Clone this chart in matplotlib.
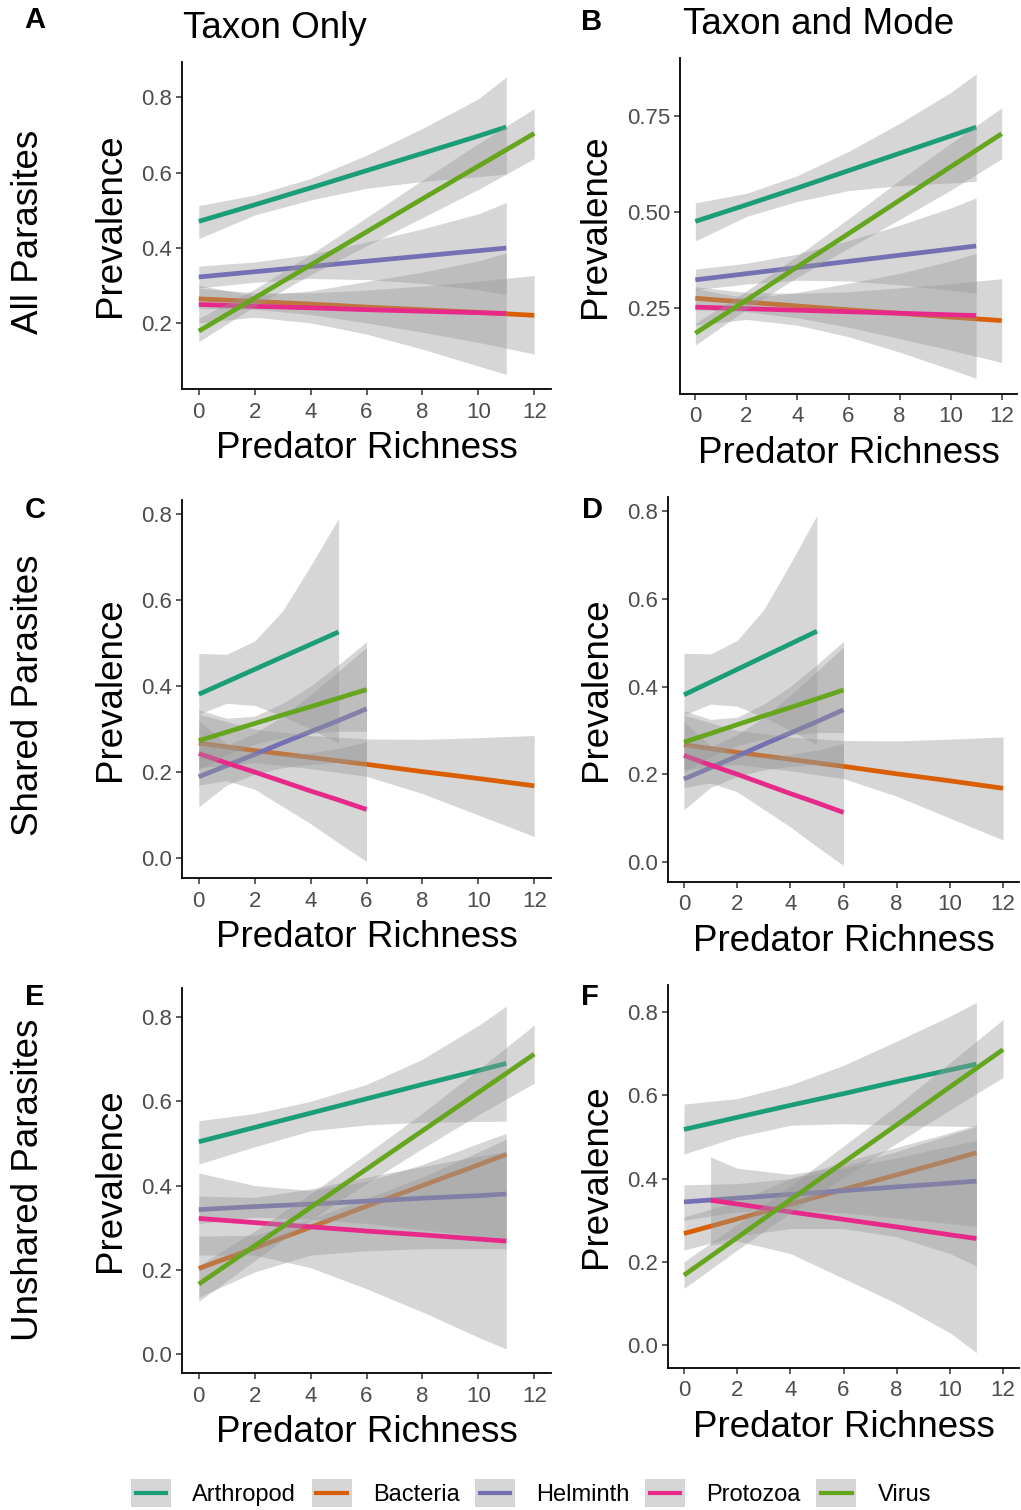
import numpy as np
import matplotlib
matplotlib.use('Agg')
import matplotlib.pyplot as plt
from matplotlib.patches import Rectangle
from matplotlib.lines import Line2D

plt.rcParams['font.family'] = ['Liberation Sans', 'DejaVu Sans']

taxa = ['Arthropod', 'Bacteria', 'Helminth', 'Protozoa', 'Virus']
colors = ['#1B9E77', '#D95F02', '#7570B3', '#E7298A', '#66A61E']

x11 = [0, 2, 4, 6, 8, 10, 11]
x12 = [0, 2, 4, 6, 8, 10, 12]
x5 = [0, 1, 2, 3, 4, 5]
x6 = [0, 1, 2, 3, 4, 5, 6]

# each taxon: (x, fitted prevalence, lower CI, upper CI)
panel_A = {
    'Arthropod': (x11, [0.470, 0.514, 0.559, 0.605, 0.651, 0.697, 0.721],
                  [0.424, 0.487, 0.527, 0.558, 0.576, 0.589, 0.596],
                  [0.512, 0.540, 0.584, 0.646, 0.717, 0.796, 0.854]),
    'Bacteria': (x12, [0.264, 0.257, 0.250, 0.242, 0.235, 0.228, 0.220],
                 [0.238, 0.236, 0.222, 0.200, 0.175, 0.148, 0.117],
                 [0.292, 0.280, 0.280, 0.287, 0.298, 0.311, 0.326]),
    'Helminth': (x11, [0.322, 0.336, 0.350, 0.364, 0.378, 0.392, 0.399],
                 [0.293, 0.308, 0.318, 0.315, 0.305, 0.288, 0.275],
                 [0.351, 0.362, 0.382, 0.415, 0.450, 0.490, 0.520]),
    'Protozoa': (x11, [0.249, 0.244, 0.240, 0.235, 0.231, 0.227, 0.225],
                 [0.200, 0.215, 0.200, 0.170, 0.130, 0.085, 0.063],
                 [0.300, 0.272, 0.285, 0.310, 0.335, 0.365, 0.386]),
    'Virus': (x12, [0.178, 0.266, 0.354, 0.442, 0.530, 0.617, 0.704],
              [0.150, 0.244, 0.328, 0.405, 0.480, 0.555, 0.637],
              [0.212, 0.290, 0.382, 0.480, 0.580, 0.677, 0.770]),
}

panel_B = {
    'Arthropod': (x11, [0.475, 0.518, 0.562, 0.607, 0.652, 0.697, 0.720],
                  [0.424, 0.488, 0.527, 0.555, 0.568, 0.575, 0.579],
                  [0.523, 0.548, 0.594, 0.657, 0.730, 0.810, 0.859]),
    'Bacteria': (x12, [0.275, 0.265, 0.255, 0.245, 0.236, 0.226, 0.217],
                 [0.245, 0.240, 0.224, 0.200, 0.170, 0.140, 0.108],
                 [0.305, 0.290, 0.288, 0.292, 0.302, 0.313, 0.326]),
    'Helminth': (x11, [0.323, 0.339, 0.355, 0.371, 0.387, 0.403, 0.411],
                 [0.297, 0.312, 0.322, 0.320, 0.310, 0.296, 0.288],
                 [0.351, 0.366, 0.390, 0.425, 0.465, 0.510, 0.536]),
    'Protozoa': (x11, [0.252, 0.248, 0.244, 0.240, 0.236, 0.232, 0.230],
                 [0.205, 0.220, 0.205, 0.175, 0.135, 0.090, 0.067],
                 [0.300, 0.276, 0.290, 0.314, 0.340, 0.372, 0.392]),
    'Virus': (x12, [0.184, 0.270, 0.357, 0.443, 0.530, 0.617, 0.703],
              [0.153, 0.246, 0.330, 0.405, 0.480, 0.556, 0.638],
              [0.210, 0.294, 0.385, 0.482, 0.582, 0.678, 0.770]),
}

panel_C = {
    'Arthropod': (x5, [0.381, 0.410, 0.439, 0.468, 0.497, 0.526],
                  [0.335, 0.360, 0.355, 0.330, 0.300, 0.267],
                  [0.476, 0.474, 0.505, 0.575, 0.680, 0.790]),
    'Bacteria': (x12, [0.267, 0.250, 0.234, 0.218, 0.201, 0.185, 0.168],
                 [0.210, 0.222, 0.208, 0.190, 0.150, 0.100, 0.050],
                 [0.335, 0.300, 0.285, 0.277, 0.276, 0.280, 0.285]),
    'Helminth': (x6, [0.189, 0.215, 0.241, 0.268, 0.294, 0.320, 0.347],
                 [0.119, 0.170, 0.195, 0.210, 0.218, 0.222, 0.225],
                 [0.270, 0.262, 0.290, 0.330, 0.380, 0.435, 0.490]),
    'Protozoa': (x6, [0.243, 0.221, 0.200, 0.178, 0.156, 0.135, 0.113],
                 [0.170, 0.180, 0.160, 0.120, 0.080, 0.035, -0.008],
                 [0.320, 0.265, 0.245, 0.240, 0.245, 0.255, 0.270]),
    'Virus': (x6, [0.273, 0.293, 0.313, 0.333, 0.352, 0.372, 0.392],
              [0.205, 0.240, 0.265, 0.280, 0.290, 0.295, 0.295],
              [0.345, 0.325, 0.330, 0.360, 0.400, 0.450, 0.503]),
}

# taxon-and-mode fit for shared parasites is indistinguishable from panel C
panel_D = panel_C

panel_E = {
    'Arthropod': (x11, [0.504, 0.538, 0.572, 0.606, 0.640, 0.673, 0.690],
                  [0.451, 0.492, 0.530, 0.544, 0.550, 0.552, 0.553],
                  [0.554, 0.571, 0.600, 0.640, 0.700, 0.780, 0.826]),
    'Bacteria': (x11, [0.203, 0.252, 0.301, 0.351, 0.400, 0.449, 0.474],
                 [0.135, 0.195, 0.235, 0.245, 0.250, 0.250, 0.250],
                 [0.280, 0.282, 0.320, 0.370, 0.420, 0.480, 0.510]),
    'Helminth': (x11, [0.343, 0.350, 0.356, 0.363, 0.370, 0.376, 0.380],
                 [0.310, 0.325, 0.320, 0.310, 0.295, 0.280, 0.270],
                 [0.375, 0.372, 0.392, 0.420, 0.445, 0.470, 0.480]),
    'Protozoa': (x11, [0.322, 0.312, 0.302, 0.292, 0.283, 0.273, 0.268],
                 [0.235, 0.235, 0.205, 0.155, 0.100, 0.040, 0.012],
                 [0.430, 0.400, 0.388, 0.410, 0.450, 0.500, 0.524]),
    'Virus': (x12, [0.166, 0.257, 0.348, 0.439, 0.530, 0.621, 0.712],
              [0.125, 0.222, 0.318, 0.405, 0.488, 0.568, 0.643],
              [0.210, 0.292, 0.380, 0.475, 0.572, 0.675, 0.781]),
}

panel_F = {
    'Arthropod': (x11, [0.518, 0.547, 0.576, 0.604, 0.633, 0.661, 0.675],
                  [0.459, 0.500, 0.528, 0.532, 0.528, 0.526, 0.525],
                  [0.579, 0.592, 0.625, 0.672, 0.730, 0.790, 0.823]),
    'Bacteria': (x11, [0.268, 0.303, 0.338, 0.374, 0.409, 0.444, 0.462],
                 [0.228, 0.262, 0.280, 0.280, 0.260, 0.220, 0.190],
                 [0.308, 0.345, 0.400, 0.440, 0.475, 0.510, 0.529]),
    'Helminth': (x11, [0.344, 0.353, 0.362, 0.371, 0.380, 0.389, 0.394],
                 [0.300, 0.320, 0.325, 0.318, 0.305, 0.292, 0.285],
                 [0.385, 0.388, 0.400, 0.425, 0.450, 0.478, 0.492]),
    'Protozoa': ([1, 2, 4, 6, 8, 10, 11], [0.348, 0.339, 0.320, 0.302, 0.284, 0.265, 0.256],
                 [0.240, 0.250, 0.220, 0.160, 0.100, 0.030, -0.018],
                 [0.452, 0.425, 0.410, 0.430, 0.465, 0.505, 0.525]),
    'Virus': (x12, [0.168, 0.258, 0.349, 0.439, 0.529, 0.620, 0.710],
              [0.136, 0.228, 0.318, 0.402, 0.485, 0.565, 0.643],
              [0.200, 0.290, 0.382, 0.478, 0.575, 0.678, 0.782]),
}

W, H = 1021, 1510
fig = plt.figure(figsize=(W / 100, H / 100), dpi=100)


def rect(l, t, r, b):
    return [l / W, 1 - b / H, (r - l) / W, (b - t) / H]


# panel: (data, box in pixels, ylim, yticks, yticklabels, letter, letter pos)
panels = [
    (panel_A, (182, 62, 551, 389), (0.024, 0.894), [0.2, 0.4, 0.6, 0.8], ['0.2', '0.4', '0.6', '0.8'], 'A', (35, 20)),
    (panel_B, (680, 58, 1017, 394), (0.026, 0.900), [0.25, 0.5, 0.75], ['0.25', '0.50', '0.75'], 'B', (592, 22)),
    (panel_C, (182, 500, 551, 878), (-0.0465, 0.833), [0, 0.2, 0.4, 0.6, 0.8], ['0.0', '0.2', '0.4', '0.6', '0.8'], 'C', (35, 510)),
    (panel_D, (668, 497, 1019, 882), (-0.0456, 0.832), [0, 0.2, 0.4, 0.6, 0.8], ['0.0', '0.2', '0.4', '0.6', '0.8'], 'D', (592, 510)),
    (panel_E, (182, 988, 551, 1373), (-0.045, 0.869), [0, 0.2, 0.4, 0.6, 0.8], ['0.0', '0.2', '0.4', '0.6', '0.8'], 'E', (35, 997)),
    (panel_F, (668, 985, 1019, 1368), (-0.055, 0.865), [0, 0.2, 0.4, 0.6, 0.8], ['0.0', '0.2', '0.4', '0.6', '0.8'], 'F', (590, 997)),
]

for data, box, ylim, yt, ytl, letter, lpos in panels:
    ax = fig.add_axes(rect(*box))
    z = 2
    for name, col in zip(taxa, colors):
        x, fit, lo, hi = data[name]
        ax.fill_between(x, lo, hi, color='#999999', alpha=0.4, lw=0, zorder=z)
        ax.plot(x, fit, color=col, lw=3.4, zorder=z + 1, solid_capstyle='butt')
        z += 2
    ax.set_xlim(-0.6, 12.6)
    ax.set_ylim(*ylim)
    ax.set_xticks(range(0, 13, 2))
    ax.set_yticks(yt)
    ax.set_yticklabels(ytl)
    for s in ['top', 'right']:
        ax.spines[s].set_visible(False)
    for s in ['left', 'bottom']:
        ax.spines[s].set_linewidth(1.3)
    ax.tick_params(labelsize=16, labelcolor='#4D4D4D', color='#333333', length=4, width=1.1, pad=3)
    ax.tick_params(axis='x', pad=5)
    ax.set_xlabel('Predator Richness', fontsize=26.5, labelpad=6)
    ax.set_ylabel('Prevalence', fontsize=26.5, labelpad=10)
    fig.text(lpos[0] / W, 1 - lpos[1] / H, letter, fontsize=21, fontweight='bold', ha='center', va='center')

fig.text(183 / W, 1 - 28 / H, 'Taxon Only', fontsize=26.5, ha='left', va='center')
fig.text(683 / W, 1 - 24 / H, 'Taxon and Mode', fontsize=26.5, ha='left', va='center')

fig.text(29 / W, 1 - 232 / H, 'All Parasites', fontsize=26.5, rotation=90, ha='center', va='center')
fig.text(29 / W, 1 - 695 / H, 'Shared Parasites', fontsize=26.5, rotation=90, ha='center', va='center')
fig.text(29 / W, 1 - 1180 / H, 'Unshared Parasites', fontsize=26.5, rotation=90, ha='center', va='center')


# legend key: grey ribbon square with a short coloured line on top
class KeyHandler:
    def legend_artist(self, legend, orig_handle, fontsize, handlebox):
        x0, y0 = -handlebox.xdescent, -handlebox.ydescent
        w, h = handlebox.width, handlebox.height
        bg = Rectangle((x0, y0), w, h, facecolor='#D6D6D6', edgecolor='none',
                       transform=handlebox.get_transform())
        ln = Line2D([x0 + 0.12 * w, x0 + 0.88 * w], [y0 + h / 2, y0 + h / 2],
                    color=orig_handle.get_color(), lw=3, transform=handlebox.get_transform())
        handlebox.add_artist(bg)
        handlebox.add_artist(ln)
        return bg


handles = [Line2D([], [], color=c) for c in colors]
fig.legend(handles, taxa, loc='center', bbox_to_anchor=(531 / W, 1 - 1493 / H), ncol=5, frameon=False,
           fontsize=17, handlelength=1.7, handleheight=1.5, handletextpad=0.9, columnspacing=0.65,
           handler_map={Line2D: KeyHandler()})

fig.savefig('out.png', dpi=100)
